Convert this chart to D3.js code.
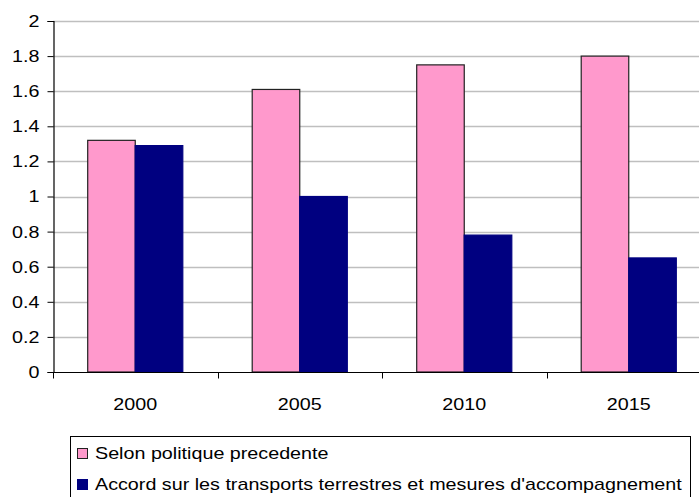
<!DOCTYPE html>
<html>
<head>
<meta charset="utf-8">
<script src="https://cdn.jsdelivr.net/npm/d3@7"></script>
<style>
  html, body { margin: 0; padding: 0; background: #fff; }
  svg { display: block; font-family: "Liberation Sans", Arial, sans-serif; }
</style>
</head>
<body>
<svg id="chart" width="699" height="497"></svg>
<script>
// Years on the category axis
const categories = ["2000", "2005", "2010", "2015"];
// Series names (legend)
const seriesNames = [
  "Selon politique precedente",
  "Accord sur les transports terrestres et mesures d'accompagnement"
];
// Series values
const politiquePrecedente = [1.32, 1.61, 1.75, 1.80];
const accordTransports = [1.29, 1.00, 0.78, 0.65];
// Y-axis ticks
const yTicks = [0, 0.2, 0.4, 0.6, 0.8, 1, 1.2, 1.4, 1.6, 1.8, 2];

const seriesValues = [politiquePrecedente, accordTransports];
const fills = ["#FF99CC", "#000080"];
const strokes = ["#222222", "#000080"];
const stretch = 1.16; // horizontal stretch of the lettering

const svg = d3.select("#chart");
const plotLeft = 53, plotRight = 711, plotTop = 21, plotBottom = 372;

const x = d3.scaleBand().domain(categories).range([plotLeft, plotRight]).paddingInner(0).paddingOuter(0);
const xs = d3.scaleBand().domain(d3.range(seriesValues.length)).range([0, x.bandwidth()]).paddingInner(0).paddingOuter(0.73);
const y = d3.scaleLinear().domain([0, 2]).range([plotBottom, plotTop]);

// Widen a text element horizontally around its anchor point
function widen(sel) {
  sel.each(function () {
    const t = d3.select(this);
    const x0 = +t.attr("x") || 0;
    t.attr("x", x0 / stretch).attr("transform", `scale(${stretch},1)`);
  });
}

// Horizontal gridlines
svg.append("g")
  .selectAll("line")
  .data(yTicks.filter(d => d > 0))
  .join("line")
  .attr("x1", plotLeft).attr("x2", 699)
  .attr("y1", d => Math.round(y(d)) + 0.5).attr("y2", d => Math.round(y(d)) + 0.5)
  .attr("stroke", "#bfbfbf").attr("stroke-width", 1.5);

// Bars
const groups = svg.append("g")
  .selectAll("g")
  .data(seriesValues)
  .join("g");

groups.selectAll("rect")
  .data((vals, si) => vals.map((v, ci) => ({ v, ci, si })))
  .join("rect")
  .attr("x", d => x(categories[d.ci]) + xs(d.si))
  .attr("y", d => y(d.v))
  .attr("width", xs.bandwidth())
  .attr("height", d => y(0) - y(d.v))
  .attr("fill", d => fills[d.si])
  .attr("stroke", d => strokes[d.si])
  .attr("stroke-width", 1.2);

// Y axis
const yAxis = d3.axisLeft(y).tickValues(yTicks).tickFormat(d3.format("~g")).tickSize(6).tickPadding(8);
const gy = svg.append("g").attr("transform", `translate(${plotLeft + 0.5},0)`).call(yAxis);
gy.attr("font-family", null).attr("font-size", null);
gy.select(".domain").attr("stroke", "#000").attr("stroke-width", 1.2);
gy.selectAll(".tick line").attr("stroke", "#000");
gy.selectAll("text").attr("font-size", 17).attr("fill", "#000").call(widen);

// X axis: baseline, ticks at category boundaries, labels centred
const gx = svg.append("g").attr("transform", `translate(0,${plotBottom + 0.5})`);
gx.append("line").attr("x1", plotLeft).attr("x2", 699).attr("stroke", "#000").attr("stroke-width", 1.2);
gx.selectAll(".bt")
  .data(categories)
  .join("line")
  .attr("class", "bt")
  .attr("x1", d => Math.round(x(d)) + 0.5).attr("x2", d => Math.round(x(d)) + 0.5)
  .attr("y1", 0).attr("y2", 6)
  .attr("stroke", "#000");
gx.selectAll("text")
  .data(categories)
  .join("text")
  .attr("x", d => x(d) + x.bandwidth() / 2)
  .attr("y", 38)
  .attr("text-anchor", "middle")
  .attr("font-size", 17)
  .attr("fill", "#000")
  .text(d => d)
  .call(widen);

// Legend
const legend = svg.append("g");
legend.append("rect")
  .attr("x", 70.5).attr("y", 436.5).attr("width", 620).attr("height", 80)
  .attr("fill", "#fff").attr("stroke", "#000").attr("stroke-width", 1);
const items = legend.selectAll(".item")
  .data(seriesNames)
  .join("g")
  .attr("class", "item")
  .attr("transform", (d, i) => `translate(0,${i * 31})`);
items.append("rect")
  .attr("x", 77.5).attr("y", 448.5).attr("width", 10).attr("height", 10)
  .attr("fill", (d, i) => fills[i])
  .attr("stroke", (d, i) => i === 0 ? "#222" : fills[i]);
items.append("text")
  .attr("x", 95).attr("y", 459)
  .attr("font-size", 17)
  .attr("fill", "#000")
  .text(d => d)
  .call(widen);
</script>
</body>
</html>
